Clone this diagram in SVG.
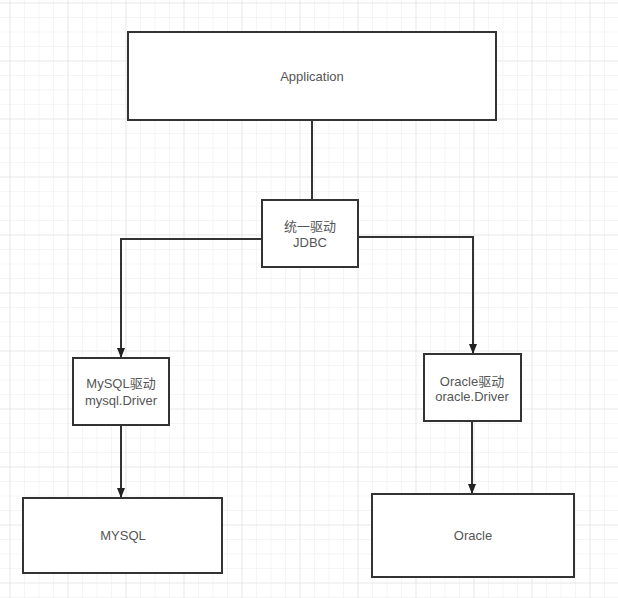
<svg xmlns="http://www.w3.org/2000/svg" width="618" height="598" viewBox="0 0 618 598">
<defs>
<pattern id="grid" x="9.5" y="2.5" width="14.5" height="14.5" patternUnits="userSpaceOnUse">
<path d="M0 0 H14.5 M0 0 V14.5" fill="none" stroke="#ebebeb" stroke-width="1"/>
</pattern>
<pattern id="grid4" x="9.5" y="2.5" width="58" height="58" patternUnits="userSpaceOnUse">
<path d="M0 0 H58 M0 0 V58" fill="none" stroke="#dedede" stroke-width="1"/>
</pattern>
<marker id="arr" markerWidth="10" markerHeight="10" refX="9" refY="5" orient="auto" markerUnits="userSpaceOnUse">
<path d="M0 1 L10 5 L0 9 Z" fill="#222"/>
</marker>
<style>
.box{fill:#fff;stroke:#333;stroke-width:2}
.t{font-family:"Liberation Sans","Noto Sans CJK SC",sans-serif;font-size:13px;fill:#555;text-anchor:middle}
.c{fill:none;stroke:#333;stroke-width:2}
</style>
</defs>
<rect width="618" height="598" fill="#fff"/>
<rect width="618" height="598" fill="url(#grid)"/>
<rect width="618" height="598" fill="url(#grid4)"/>
<g id="connectors">
<path class="c" d="M312 120 V200"/>
<path class="c" d="M262 239 H121 V357" marker-end="url(#arr)"/>
<path class="c" d="M358 237 H473 V353" marker-end="url(#arr)"/>
<path class="c" d="M121 425 V497" marker-end="url(#arr)"/>
<path class="c" d="M472 421 V493" marker-end="url(#arr)"/>
</g>
<g id="application">
<rect class="box" x="128" y="32" width="368" height="88"/>
<text class="t" x="312" y="81">Application</text>
</g>
<g id="jdbc">
<rect class="box" x="262" y="200" width="96" height="67"/>
<text class="t" x="310" y="231">统一驱动</text>
<text class="t" x="310" y="247">JDBC</text>
</g>
<g id="mysql-driver">
<rect class="box" x="73" y="358" width="96" height="67"/>
<text class="t" x="121" y="388">MySQL驱动</text>
<text class="t" x="121" y="405">mysql.Driver</text>
</g>
<g id="oracle-driver">
<rect class="box" x="424" y="354" width="97" height="67"/>
<text class="t" x="472" y="386">Oracle驱动</text>
<text class="t" x="472" y="401">oracle.Driver</text>
</g>
<g id="mysql">
<rect class="box" x="23" y="498" width="199" height="75"/>
<text class="t" x="123" y="540">MYSQL</text>
</g>
<g id="oracle">
<rect class="box" x="372" y="494" width="202" height="83"/>
<text class="t" x="473" y="540">Oracle</text>
</g>
</svg>
